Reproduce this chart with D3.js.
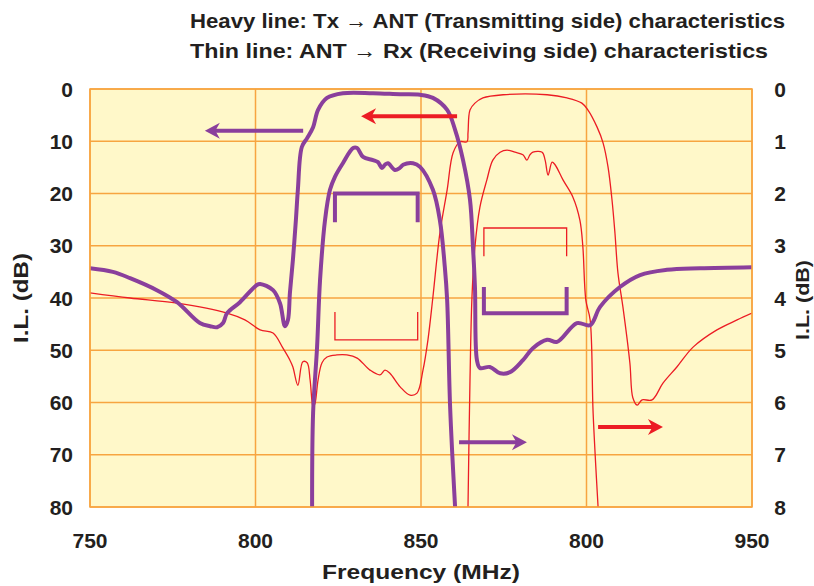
<!DOCTYPE html>
<html>
<head>
<meta charset="utf-8">
<script src="https://cdn.jsdelivr.net/npm/d3@7"></script>
<style>
  body { margin: 0; background: #fff; }
  text { font-family: "Liberation Sans", Arial, sans-serif; font-weight: bold; fill: #231f20; }
</style>
</head>
<body>
<svg id="chart" width="814" height="586"></svg>
<script>
// Axis ticks
const xTicks = [750, 800, 850, 900, 950];
const xTickLabels = ["750", "800", "850", "800", "950"]; // label as printed in the original
const yTicksLeft = [0, 10, 20, 30, 40, 50, 60, 70, 80];
const yTicksRight = [0, 1, 2, 3, 4, 5, 6, 7, 8];

// Heavy line, full scale (left axis, dB) : [MHz, dB]
const txWide = [
  [750, 34.3], [756.9, 35.0], [762.1, 36.2], [770.2, 38.5], [776.3, 40.8], [783.2, 44.8],
  [786.3, 45.4], [788.4, 45.6], [790.2, 44.8], [791.4, 42.9], [795.3, 40.8], [800.4, 37.5],
  [801.4, 37.3], [805.3, 38.5], [807.4, 41.0], [808.9, 45.4], [809.8, 44.2], [810.4, 39.0],
  [811.3, 32.7], [812.2, 25.1], [812.8, 19.3], [814.0, 11.1], [815.6, 9.4], [817.4, 7.3],
  [818.9, 4.0], [821.6, 1.7], [826.4, 0.8], [835.5, 0.8], [843.7, 1.0], [849.7, 1.1],
  [853.6, 1.7], [857.9, 4.0], [860.3, 7.8], [862.7, 13.6], [864.8, 21.2], [865.7, 30.2],
  [866.3, 37.9], [866.9, 51.9], [867.8, 53.4], [870.8, 53.2], [873.9, 54.4], [876.9, 54.2],
  [880.8, 51.9], [883.8, 49.6], [888.1, 48.0], [891.1, 48.4], [897.1, 44.8], [901.1, 45.2],
  [904.1, 41.7], [910.1, 37.9], [916.2, 35.6], [924.3, 34.6], [934.3, 34.3], [950, 34.1]
];

// Heavy line, expanded (right axis, dB)
const txNarrow = [
  [817.1, 8.0], [817.4, 6.2], [818.6, 4.94], [819.5, 3.66], [821.0, 2.51], [822.5, 1.93],
  [824.0, 1.68], [826.4, 1.42], [829.5, 1.13], [830.7, 1.13], [832.5, 1.30], [835.5, 1.36],
  [837.0, 1.40], [838.2, 1.51], [839.1, 1.45], [840.0, 1.42], [842.1, 1.55], [843.6, 1.51],
  [844.6, 1.45], [847.6, 1.42], [849.7, 1.49], [853.6, 1.93], [855.7, 2.51], [857.2, 3.41],
  [857.9, 4.04], [858.8, 6.09], [860.3, 8.0]
];

// Thin line, full scale (left axis, dB)
const rxWide = [
  [750, 39.0], [762.1, 40.0], [776.3, 41.0], [791.4, 42.9], [796.8, 44.2], [801.4, 46.1],
  [805.3, 46.7], [808.3, 49.6], [810.4, 51.9], [811.3, 53.2], [812.8, 56.7], [814.3, 52.2],
  [815.6, 52.4], [816.5, 55.7], [817.4, 60.9], [818.0, 60.1], [818.9, 55.7], [820.1, 52.4],
  [821.6, 51.3], [824.6, 50.9], [827.6, 50.9], [830.7, 51.5], [834.6, 53.8], [837.6, 54.7],
  [839.1, 53.8], [840.6, 54.4], [843.7, 57.0], [846.7, 58.6], [848.8, 58.2], [850.6, 53.8],
  [852.1, 48.0], [853.6, 39.8], [855.7, 27.6], [857.9, 19.3], [859.7, 12.2], [861.8, 10.1],
  [863.9, 10.1], [864.2, 8.4], [864.8, 4.0], [866.3, 2.7], [868.7, 1.7], [874.8, 1.1],
  [888.1, 1.1], [894.1, 1.7], [898.6, 2.7], [900.4, 4.0], [903.2, 7.3], [905.0, 10.3],
  [906.5, 14.9], [907.7, 21.2], [908.6, 27.6], [909.5, 35.2], [911.0, 41.7], [913.1, 52.4],
  [914.0, 59.1], [915.3, 60.5], [916.8, 59.5], [919.8, 59.5], [923.1, 56.3], [927.3, 53.2],
  [932.2, 49.4], [939.4, 46.1], [945.5, 44.2], [950, 42.9]
];

// Thin line, expanded (right axis, dB)
const rxNarrow = [
  [864.2, 8.0], [864.8, 5.57], [865.4, 3.98], [866.3, 3.02], [867.8, 2.26], [869.9, 1.74],
  [871.7, 1.36], [873.9, 1.21], [876.0, 1.17], [878.4, 1.21], [880.8, 1.26], [882.0, 1.36],
  [882.9, 1.26], [883.8, 1.21], [886.6, 1.21], [887.5, 1.36], [888.4, 1.65], [889.6, 1.40],
  [890.5, 1.45], [892.9, 1.74], [895.9, 2.07], [898.0, 2.51], [898.9, 3.02], [899.8, 4.04],
  [901.1, 4.42], [902.0, 6.20], [903.5, 8.0]
];

// Spec brackets: [f1, f2, level, leg end, axis]
const specTxPass = [824, 849, 2.0, 2.55, "right"];
const specTxRej = [869, 894, 42.9, 37.9, "left"];
const specRxPass = [869, 894, 2.66, 3.2, "right"];
const specRxRej = [824, 849, 48.0, 42.7, "left"];

// Arrows: [from MHz, to MHz, dB (left axis)]
const arrowTxWide = [814.4, 784.7, 8.0];
const arrowRxWide = [860.9, 831.9, 5.2];
const arrowTxNarrow = [861.5, 882.0, 67.6];
const arrowRxNarrow = [903.5, 923.1, 64.7];

const purple = "#8a3f9c";
const red = "#ec1c24";
const grid = "#f7a540";

const W = 814, H = 586;
const margin = {top: 89, right: 62, bottom: 79, left: 90};
const iw = W - margin.left - margin.right;
const ih = H - margin.top - margin.bottom;

const svg = d3.select("#chart");
const g = svg.append("g").attr("transform", `translate(${margin.left},${margin.top})`);

const x = d3.scaleLinear().domain([750, 950]).range([0, iw]);
const yL = d3.scaleLinear().domain([0, 80]).range([0, ih]);
const yR = d3.scaleLinear().domain([0, 8]).range([0, ih]);

// background
g.append("rect").attr("width", iw).attr("height", ih).attr("fill", "#fff8c9");

// grid
g.selectAll(".vg").data(xTicks).enter().append("line")
  .attr("x1", d => x(d)).attr("x2", d => x(d)).attr("y1", 0).attr("y2", ih)
  .attr("stroke", grid).attr("stroke-width", 1.5);
g.selectAll(".hg").data(yTicksLeft).enter().append("line")
  .attr("x1", 0).attr("x2", iw).attr("y1", d => yL(d)).attr("y2", d => yL(d))
  .attr("stroke", grid).attr("stroke-width", 1.5);

// clip for curves
svg.append("defs").append("clipPath").attr("id", "clip")
  .append("rect").attr("width", iw).attr("height", ih);
const plot = g.append("g").attr("clip-path", "url(#clip)");

const lineL = d3.line().x(d => x(d[0])).y(d => yL(d[1])).curve(d3.curveCatmullRom.alpha(0.5));
const lineR = d3.line().x(d => x(d[0])).y(d => yR(d[1])).curve(d3.curveCatmullRom.alpha(0.5));

plot.append("path").datum(rxWide).attr("d", lineL)
  .attr("fill", "none").attr("stroke", red).attr("stroke-width", 1.3);
plot.append("path").datum(rxNarrow).attr("d", lineR)
  .attr("fill", "none").attr("stroke", red).attr("stroke-width", 1.3);
plot.append("path").datum(txWide).attr("d", lineL)
  .attr("fill", "none").attr("stroke", purple).attr("stroke-width", 4).attr("stroke-linejoin", "round");
plot.append("path").datum(txNarrow).attr("d", lineR)
  .attr("fill", "none").attr("stroke", purple).attr("stroke-width", 4).attr("stroke-linejoin", "round");

// spec brackets
function bracket(s, color, w) {
  const y = s[4] === "left" ? yL : yR;
  const pts = [[s[0], s[3]], [s[0], s[2]], [s[1], s[2]], [s[1], s[3]]];
  plot.append("path")
    .attr("d", d3.line().x(d => x(d[0])).y(d => y(d[1]))(pts))
    .attr("fill", "none").attr("stroke", color).attr("stroke-width", w);
}
bracket(specTxPass, purple, 4);
bracket(specTxRej, purple, 4);
bracket(specRxPass, red, 1.3);
bracket(specRxRej, red, 1.3);

// arrows
function arrow(a, color) {
  const x0 = x(a[0]), x1 = x(a[1]), yy = yL(a[2]);
  const dir = Math.sign(x1 - x0);
  const hl = 15, hw = 8;
  plot.append("line").attr("x1", x0).attr("x2", x1 - dir * hl * 0.6).attr("y1", yy).attr("y2", yy)
    .attr("stroke", color).attr("stroke-width", 4);
  plot.append("path")
    .attr("d", `M${x1},${yy} L${x1 - dir * hl},${yy - hw} L${x1 - dir * hl * 0.7},${yy} L${x1 - dir * hl},${yy + hw} Z`)
    .attr("fill", color);
}
arrow(arrowTxWide, purple);
arrow(arrowRxWide, red);
arrow(arrowTxNarrow, purple);
arrow(arrowRxNarrow, red);

// frame
g.append("rect").attr("width", iw).attr("height", ih)
  .attr("fill", "none").attr("stroke", grid).attr("stroke-width", 1.5);

// tick labels
g.selectAll(".yl").data(yTicksLeft).enter().append("text")
  .attr("x", -17).attr("y", d => yL(d)).attr("dy", "0.36em")
  .attr("text-anchor", "end").attr("font-size", 21).text(d => d);
g.selectAll(".yr").data(yTicksRight).enter().append("text")
  .attr("x", iw + 28).attr("y", d => yR(d)).attr("dy", "0.36em")
  .attr("text-anchor", "middle").attr("font-size", 21).text(d => d);
g.selectAll(".xl").data(xTicks).enter().append("text")
  .attr("x", d => x(d)).attr("y", ih + 33).attr("dy", "0.36em")
  .attr("text-anchor", "middle").attr("font-size", 21).text((d, i) => xTickLabels[i]);

// axis titles
svg.append("text").attr("x", 421).attr("y", 579)
  .attr("text-anchor", "middle").attr("font-size", 21)
  .attr("textLength", 198).attr("lengthAdjust", "spacingAndGlyphs")
  .text("Frequency (MHz)");
svg.append("text").attr("transform", "translate(28,298) rotate(-90)")
  .attr("text-anchor", "middle").attr("font-size", 21)
  .attr("textLength", 90).attr("lengthAdjust", "spacingAndGlyphs")
  .text("I.L. (dB)");
svg.append("text").attr("transform", "translate(809,300) rotate(-90)")
  .attr("text-anchor", "middle").attr("font-size", 18)
  .attr("textLength", 80).attr("lengthAdjust", "spacingAndGlyphs")
  .text("I.L. (dB)");

// header
svg.append("text").attr("x", 190).attr("y", 28).attr("font-size", 21)
  .attr("textLength", 595).attr("lengthAdjust", "spacingAndGlyphs")
  .text("Heavy line: Tx \u2192 ANT (Transmitting side) characteristics");
svg.append("text").attr("x", 190).attr("y", 58).attr("font-size", 21)
  .attr("textLength", 578).attr("lengthAdjust", "spacingAndGlyphs")
  .text("Thin line: ANT \u2192 Rx (Receiving side) characteristics");
</script>
</body>
</html>
